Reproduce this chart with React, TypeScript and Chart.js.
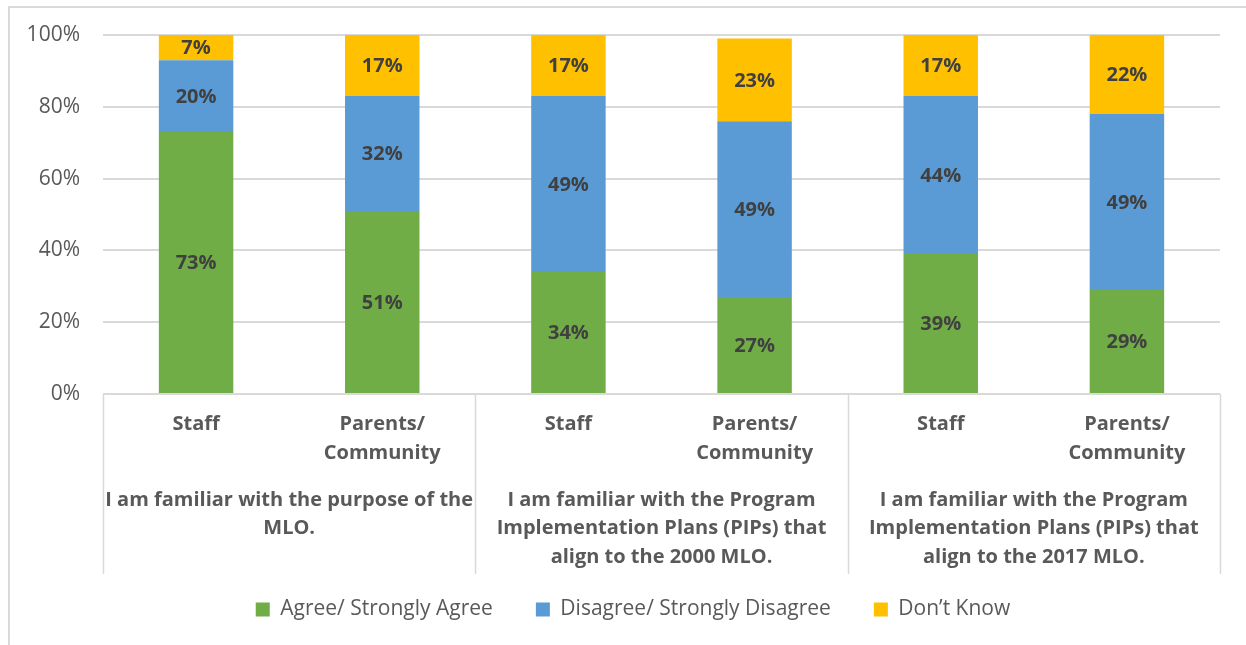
import React, { useEffect, useRef } from "react";
import { Chart, registerables } from "chart.js";

Chart.register(...registerables);

const categories: string[][] = [
  ["Staff"],
  ["Parents/", "Community"],
  ["Staff"],
  ["Parents/", "Community"],
  ["Staff"],
  ["Parents/", "Community"],
];

const groupLabels: string[][] = [
  ["I am familiar with the purpose of the", "MLO."],
  ["I am familiar with the Program", "Implementation Plans (PIPs) that", "align to the 2000 MLO."],
  ["I am familiar with the Program", "Implementation Plans (PIPs) that", "align to the 2017 MLO."],
];

const agree = [73, 51, 34, 27, 39, 29];
const disagree = [20, 32, 49, 49, 44, 49];
const dontKnow = [7, 17, 17, 23, 17, 22];

const seriesNames = ["Agree/ Strongly Agree", "Disagree/ Strongly Disagree", "Don\u2019t Know"];
const seriesColors = ["#70AD47", "#5B9BD5", "#FFC000"];

const yMin = 0;
const yMax = 100;
const yStep = 20;

const FONT = "'Open Sans', sans-serif";

const dataLabelPlugin = {
  id: "dataLabels",
  afterDatasetsDraw(chart: any) {
    const ctx = chart.ctx;
    ctx.save();
    ctx.font = `bold 20px ${FONT}`;
    ctx.fillStyle = "#404040";
    ctx.textAlign = "center";
    ctx.textBaseline = "middle";
    chart.data.datasets.forEach((ds: any, di: number) => {
      const meta = chart.getDatasetMeta(di);
      meta.data.forEach((el: any, i: number) => {
        const v = ds.data[i];
        const p = el.getCenterPoint();
        ctx.fillText(`${v}%`, p.x, p.y + 1);
      });
    });
    ctx.restore();
  },
};

const legendShiftPlugin = {
  id: "legendShift",
  afterLayout(chart: any) {
    if (chart.legend) {
      chart.legend.left += 36;
    }
  },
};

const groupPlugin = {
  id: "groupAxis",
  afterDraw(chart: any) {
    const xs = chart.scales.x;
    const area = chart.chartArea;
    const ctx = chart.ctx;
    const w = xs.getPixelForValue(1) - xs.getPixelForValue(0);
    ctx.save();
    ctx.strokeStyle = "#d9d9d9";
    ctx.lineWidth = 1.5;
    for (let g = 0; g <= groupLabels.length; g++) {
      const px = Math.round(xs.getPixelForValue(g * 2) - w / 2) + 0.5;
      ctx.beginPath();
      ctx.moveTo(px, area.bottom);
      ctx.lineTo(px, area.bottom + 180);
      ctx.stroke();
    }
    ctx.font = `bold 20px ${FONT}`;
    ctx.fillStyle = "#595959";
    ctx.textAlign = "center";
    ctx.textBaseline = "middle";
    groupLabels.forEach((lines, g) => {
      const cx = (xs.getPixelForValue(g * 2) + xs.getPixelForValue(g * 2 + 1)) / 2;
      lines.forEach((line, k) => {
        ctx.fillText(line, cx, area.bottom + 106 + k * 28.5);
      });
    });
    ctx.restore();
  },
};

export default function App() {
  const ref = useRef<HTMLCanvasElement | null>(null);

  useEffect(() => {
    if (!ref.current) return;
    Chart.defaults.font.family = FONT;
    const values = [agree, disagree, dontKnow];
    const chart = new Chart(ref.current, {
      type: "bar",
      data: {
        labels: categories as any,
        datasets: values.map((d, i) => ({
          label: seriesNames[i],
          data: d,
          backgroundColor: seriesColors[i],
          borderWidth: 0,
          categoryPercentage: 1,
          barPercentage: 0.4,
        })),
      },
      options: {
        animation: false,
        responsive: true,
        maintainAspectRatio: false,
        layout: { padding: { left: 0, right: 26, top: 27, bottom: 15 } },
        plugins: {
          legend: {
            position: "bottom",
            labels: {
              boxWidth: 14,
              boxHeight: 14,
              padding: 43,
              color: "#595959",
              font: { size: 21 },
            },
          },
          tooltip: { enabled: false },
        },
        scales: {
          x: {
            stacked: true,
            grid: { display: false },
            border: { display: false },
            ticks: {
              autoSkip: false,
              maxRotation: 0,
              minRotation: 0,
              padding: 8,
              color: "#595959",
              font: { size: 20, weight: "bold", lineHeight: 1.45 },
            },
            afterFit: (a: any) => {
              a.height = 162;
            },
          },
          y: {
            stacked: true,
            min: yMin,
            max: yMax,
            ticks: {
              stepSize: yStep,
              padding: 23,
              color: "#595959",
              font: { size: 21 },
              callback: (v: any) => `${v}%`,
            },
            grid: { color: "#d9d9d9", drawTicks: false, lineWidth: 2 },
            border: { display: false },
            afterFit: (a: any) => {
              a.width = 93;
              a.paddingTop = 0;
              a.paddingBottom = 0;
            },
          },
        },
      },
      plugins: [dataLabelPlugin, groupPlugin, legendShiftPlugin],
    });
    return () => chart.destroy();
  }, []);

  return (
    <div
      style={{
        position: "fixed",
        left: 8,
        top: 6,
        width: 1238,
        height: 639,
        boxSizing: "border-box",
        borderTop: "2px solid #d9d9d9",
        borderLeft: "2px solid #d9d9d9",
        background: "#fff",
      }}
    >
      <div style={{ position: "relative", width: 1236, height: 637 }}>
        <canvas ref={ref} />
      </div>
    </div>
  );
}
